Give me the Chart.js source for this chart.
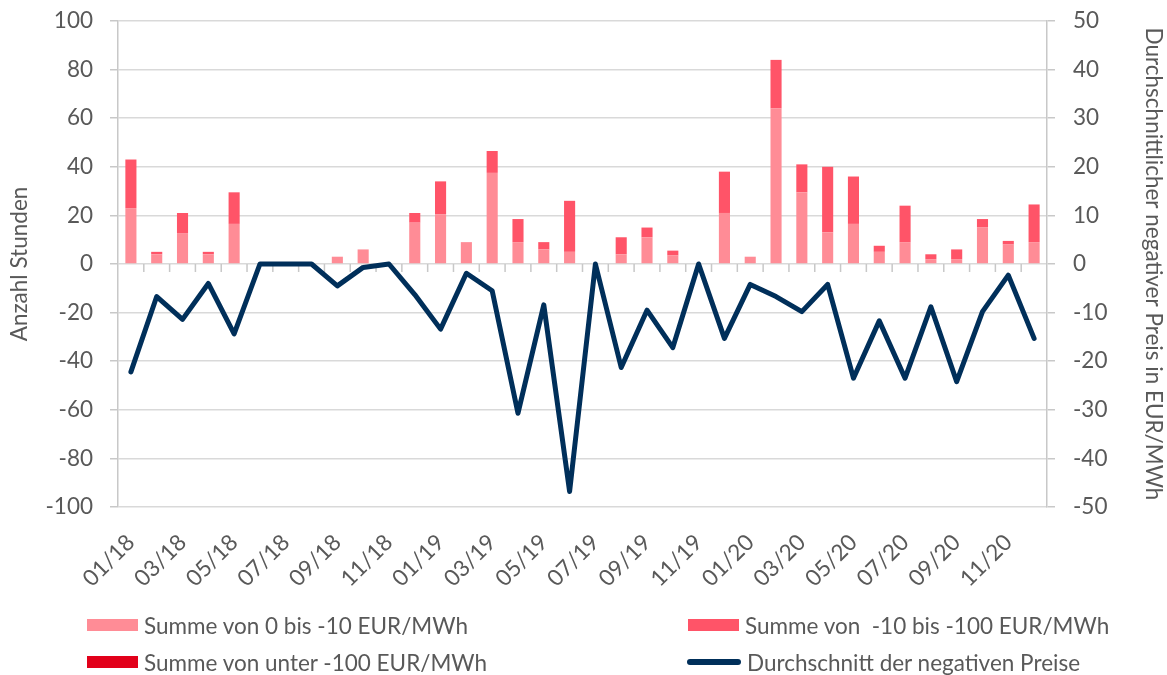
<!DOCTYPE html>
<html><head><meta charset="utf-8">
<script src="https://cdn.jsdelivr.net/npm/chart.js@4/dist/chart.umd.min.js"></script>
<style>
html,body{margin:0;padding:0;background:#fff;}
#wrap{position:relative;width:1167px;height:675px;}
canvas{position:absolute;left:0;top:0;}
.leg{position:absolute;font-family:Lato,"Open Sans",sans-serif;font-size:22.5px;color:#595959;display:flex;align-items:center;white-space:pre;height:26px;}
.leg span.b{display:inline-block;width:51px;height:12px;margin-right:6px;}
.leg span.l{display:inline-block;width:54px;height:6px;border-radius:3px;margin-right:6px;}
</style></head>
<body><div id="wrap"><canvas id="c" width="1167" height="675"></canvas>
<div class="leg" style="left:87px;top:612px"><span class="b" style="background:#FF8C96"></span>Summe von 0 bis -10 EUR/MWh</div>
<div class="leg" style="left:688px;top:612px"><span class="b" style="background:#FF5468"></span>Summe von  -10 bis -100 EUR/MWh</div>
<div class="leg" style="left:87px;top:649px"><span class="b" style="background:#E2001A"></span>Summe von unter -100 EUR/MWh</div>
<div class="leg" style="left:687px;top:649px"><span class="l" style="background:#002F5A"></span>Durchschnitt der negativen Preise</div>
</div>
<script>
const months = ["01/18","02/18","03/18","04/18","05/18","06/18","07/18","08/18","09/18","10/18","11/18","12/18",
"01/19","02/19","03/19","04/19","05/19","06/19","07/19","08/19","09/19","10/19","11/19","12/19",
"01/20","02/20","03/20","04/20","05/20","06/20","07/20","08/20","09/20","10/20","11/20","12/20"];
const sum0to10 = [23,4,12.5,4,16.5,0,0,0,3,6,0,17, 20.5,9,37.5,9,6,5,0,4,11,3.5,0,21, 3,64,29.5,13,16.5,5,9,2,2,15,8,9];
const sum10to100 = [20,1,8.5,1,13,0,0,0,0,0,0,4, 13.5,0,9,9.5,3,21,0,7,4,2,0,17, 0,20,11.5,27,19.5,2.5,15,2,4,3.5,1.5,15.5];
const sumUnder100 = [0,0,0,0,0,0,0,0,0,0,0,0, 0,0,0,0,0,0,0,0,0,0,0,0, 0,0,0,0,0,0,0,0,0,0,0,0];
const avgPrice = [-22.2,-6.7,-11.4,-4.0,-14.4,0,0,0,-4.5,-0.7,0,-6.3, -13.4,-1.9,-5.5,-30.7,-8.4,-46.8,0,-21.3,-9.5,-17.2,0,-15.3, -4.2,-6.7,-9.8,-4.2,-23.5,-11.7,-23.5,-8.8,-24.2,-9.8,-2.3,-15.3];
const leftTicks = {min:-100,max:100,step:20};
const rightTicks = {min:-50,max:50,step:10};

const FONT = "Lato, 'Open Sans', sans-serif";
const FS = 22.5;
const GRAY = "#595959";
const AXIS = "#c8c8c8";

const tickPlugin = {
  id:'xticks',
  beforeDatasetsDraw(chart){
    const x = chart.scales.x, y = chart.scales.y, ctx = chart.ctx;
    const y0 = y.getPixelForValue(0);
    const half = (x.getPixelForValue(1)-x.getPixelForValue(0))/2;
    ctx.save();
    ctx.strokeStyle = AXIS; ctx.lineWidth = 1.5;
    ctx.beginPath();
    for(let i=1;i<months.length;i++){
      const px = x.getPixelForValue(i) - half;
      ctx.moveTo(px, y0); ctx.lineTo(px, y0+8);
    }
    ctx.stroke();
    ctx.restore();
  }
};

function fixV(w){ return s=>{ s.width=w; s.paddingTop=0; s.paddingBottom=0; }; }

new Chart(document.getElementById('c'), {
  data:{
    labels: months,
    datasets:[
      {type:'line', label:'Durchschnitt der negativen Preise', data:avgPrice, yAxisID:'y2', borderColor:'#002F5A', borderWidth:5, pointRadius:0, tension:0, borderJoinStyle:'round', borderCapStyle:'round', order:0},
      {type:'bar', label:'Summe von 0 bis -10 EUR/MWh', data:sum0to10, backgroundColor:'#FF8C96', yAxisID:'y', stack:'s', order:1},
      {type:'bar', label:'Summe von  -10 bis -100 EUR/MWh', data:sum10to100, backgroundColor:'#FF5468', yAxisID:'y', stack:'s', order:1},
      {type:'bar', label:'Summe von unter -100 EUR/MWh', data:sumUnder100, backgroundColor:'#E2001A', yAxisID:'y', stack:'s', order:1}
    ]
  },
  options:{
    responsive:false, animation:false,
    layout:{padding:{top:21,left:0,right:0,bottom:0}},
    datasets:{bar:{categoryPercentage:1, barPercentage:0.43}},
    plugins:{legend:{display:false}, tooltip:{enabled:false}},
    scales:{
      x:{
        stacked:true,
        grid:{display:false, drawTicks:false},
        border:{display:false},
        ticks:{autoSkip:false, maxRotation:45, minRotation:45, color:GRAY, font:{family:FONT,size:FS}, padding:22,
          callback:(v,i)=> i%2===0 ? months[i] : ''},
        afterFit:s=>{s.height=168;}
      },
      y:{
        stacked:true, position:'left', min:leftTicks.min, max:leftTicks.max,
        ticks:{stepSize:leftTicks.step, color:GRAY, font:{family:FONT,size:FS}, padding:17},
        grid:{color:'#d9d9d9', lineWidth:1.5, drawTicks:true, tickLength:8, tickColor:AXIS},
        border:{display:true, color:AXIS, width:1.5},
        title:{display:true, text:'Anzahl Stunden', color:GRAY, font:{family:FONT,size:FS}, padding:{top:6,bottom:0}},
        afterFit:fixV(118)
      },
      y2:{
        position:'right', min:rightTicks.min, max:rightTicks.max,
        ticks:{stepSize:rightTicks.step, color:GRAY, font:{family:FONT,size:FS}, padding:18},
        grid:{display:true, drawOnChartArea:false, drawTicks:true, tickLength:8, color:AXIS, tickColor:AXIS, lineWidth:1.5},
        border:{display:true, color:AXIS, width:1.5},
        title:{display:true, text:'Durchschnittlicher negativer Preis in EUR/MWh', color:GRAY, font:{family:FONT,size:FS}, padding:{top:0,bottom:0}},
        afterFit:fixV(120)
      }
    }
  },
  plugins:[tickPlugin]
});
</script>
</body></html>
